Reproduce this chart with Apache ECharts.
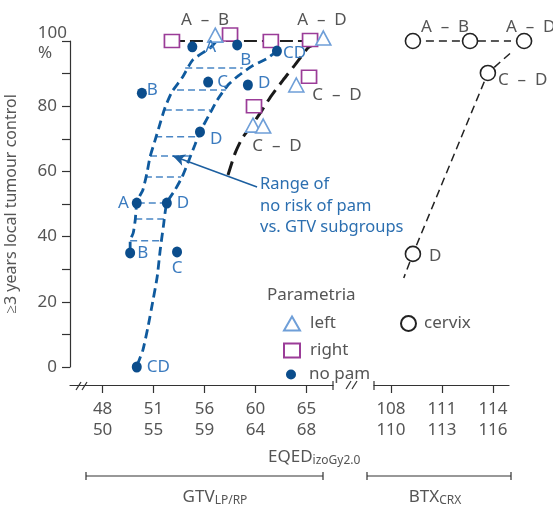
<!DOCTYPE html>
<html><head><meta charset="utf-8">
<script src="https://cdn.jsdelivr.net/npm/echarts@6/dist/echarts.min.js"></script>
<style>html,body{margin:0;padding:0;background:#fff}#c{width:553px;height:507px}</style>
</head><body><div id="c"></div>
<script>
// ---- tick labels ----
const gtvTicks = ['48\n50', '51\n55', '56\n59', '60\n64', '65\n68'];
const btxTicks = ['108\n110', '111\n113', '114\n116'];
const yLabelValues = [0, 20, 40, 60, 80];

// ---- data (x in tick-index units, y in % local tumour control) ----
const leftParam = [[2.21, 101.8], [4.33, 100.9], [3.80, 86.5], [2.95, 74.2], [3.15, 73.9]];
const rightParam = [[1.36, 100], [2.50, 102], [3.30, 100], [4.07, 100.3], [4.05, 89], [2.97, 80]];
const noPam = [[1.76, 98.2], [2.64, 98.8], [3.42, 96.9], [2.07, 87.4], [2.85, 86.5], [0.77, 84.0],
               [1.91, 72.1], [0.67, 50.3], [1.26, 50.3], [0.54, 35.0], [1.46, 35.3], [0.67, 0]];
const noPamLetters = ['A', 'B', 'CD', 'C', 'D', 'B', 'D', 'A', 'D', 'B', 'C', 'CD'];
const cervix = [[0.43, 100], [1.55, 100], [2.61, 100], [1.90, 90.2], [0.43, 34.7]];
const cervixLine = [[0.43, 100], [1.55, 100], [2.61, 100], [1.90, 90.2], [0.43, 34.7], [0.25, 27.3]];
const leftBound = [[0.54, 35.6], [0.54, 38.7], [0.60, 41.1], [0.64, 45.1], [0.67, 50.3], [0.73, 52.5],
                   [0.79, 54.3], [0.87, 59.5], [0.93, 64.4], [1.03, 69.6], [1.13, 74.8], [1.22, 79.4],
                   [1.36, 84.4], [1.56, 88.7], [1.77, 94.2], [2.11, 97.9], [2.25, 100.3]];
const rightBound = [[0.68, 0.6], [0.79, 5.2], [0.89, 12.3], [0.99, 20.6], [1.07, 27.6], [1.13, 35.9],
                    [1.19, 42.9], [1.26, 50.3], [1.42, 54.3], [1.56, 58.3], [1.68, 62.9], [1.81, 68.1],
                    [1.91, 72.1], [2.11, 77.9], [2.25, 81.9], [2.46, 86.5], [2.66, 89.3], [2.93, 92.3],
                    [3.21, 94.5], [3.42, 96.9]];
const blackCurve = [[2.46, 58.9], [2.60, 65.6], [2.74, 70.2], [2.93, 74.2], [3.13, 78.8], [3.28, 82.5],
                    [3.54, 88.0], [3.77, 92.6], [4.03, 97.9], [4.13, 98.8]];
const topLine = [[1.36, 100], [4.07, 100]];
const hatchY = [50.3, 45.4, 38.7, 58.3, 64.7, 70.6, 78.8, 85.0, 91.7];
const hatchX1 = [0.69, 0.64, 0.54, 0.83, 0.93, 1.03, 1.22, 1.46, 1.62];
const hatchX2 = [1.26, 1.20, 1.17, 1.54, 1.71, 1.87, 2.11, 2.42, 2.75];
const arrowFrom = [3.03, 55.2];
const arrowTo = [1.38, 64.7];

// ---- styles ----
const FONT = 'Noto Sans';
const GRAY = '#555555';
const AX = '#333333';
const DOT = '#0b4d8c';
const CURVE = '#0f5a9e';
const HATCH = '#4a86c5';
const LBL = '#3b7bbf';
const TRI = '#6f9fd8';
const SQ = '#9b3c98';
const labelOffsets = [['right', 8, 0, 0], ['right', 0, -2, 15], ['right', 1, 0, 2], ['right', 4, 0, 0],
                      ['right', 5, 0, -2], ['right', 0, 0, -3], ['right', 5, 0, 7], ['left', 3, 0, 0],
                      ['right', 5, 0, 0], ['right', 2, 0, 0], ['bottom', 2, 0, 0], ['right', 5, 0, 0]];

const chart = echarts.init(document.getElementById('c'));

function txt(x, y, text, o) {
  return { type: 'text', x: x, y: y, silent: true,
    style: Object.assign({ text: text, fill: GRAY, fontSize: 17, fontFamily: FONT, align: 'center', verticalAlign: 'middle' }, o || {}) };
}
function ln(x1, y1, x2, y2, w) {
  return { type: 'line', silent: true, shape: { x1: x1, y1: y1, x2: x2, y2: y2 }, style: { stroke: AX, lineWidth: w || 1.2 } };
}

const hatchSeries = hatchY.map((y, i) => ({
  type: 'line', xAxisIndex: 0, yAxisIndex: 0, data: [[hatchX1[i], y], [hatchX2[i], y]],
  symbol: 'none', silent: true, clip: false, z: 2,
  lineStyle: { color: HATCH, width: 1.5, type: [7, 4] }
}));

const xAxisCommon = {
  type: 'value', position: 'bottom', offset: 18, splitLine: { show: false },
  axisLine: { show: true, onZero: false, lineStyle: { color: AX, width: 1.2 } },
  axisTick: { show: true, length: 8, lineStyle: { color: AX, width: 1.2 } },
  axisLabel: { color: GRAY, fontSize: 17, fontFamily: FONT, lineHeight: 21, margin: 14 }
};
const legendText = { color: GRAY, fontSize: 17, fontFamily: FONT };

const option = {
  backgroundColor: '#fff',
  animation: false,
  textStyle: { fontFamily: FONT },
  grid: [
    { left: 70, top: 41, width: 263, height: 326 },
    { left: 374, top: 41, width: 135, height: 326 }
  ],
  xAxis: [
    Object.assign({}, xAxisCommon, { gridIndex: 0, min: -0.64, max: 4.52,
      axisTick: Object.assign({}, xAxisCommon.axisTick, { customValues: [0, 1, 2, 3, 4] }),
      axisLabel: Object.assign({}, xAxisCommon.axisLabel, { customValues: [0, 1, 2, 3, 4], formatter: v => gtvTicks[Math.round(v)] })
    }),
    Object.assign({}, xAxisCommon, { gridIndex: 1, min: -0.333, max: 2.314,
      axisTick: Object.assign({}, xAxisCommon.axisTick, { customValues: [0, 1, 2] }),
      axisLabel: Object.assign({}, xAxisCommon.axisLabel, { customValues: [0, 1, 2], formatter: v => btxTicks[Math.round(v)] })
    })
  ],
  yAxis: [
    { type: 'value', gridIndex: 0, min: 0, max: 100, interval: 10,
      name: '≥3 years local tumour control', nameLocation: 'middle', nameGap: 51, nameRotate: 90,
      nameTextStyle: { color: GRAY, fontSize: 16, fontFamily: FONT },
      axisLine: { show: true, onZero: false, lineStyle: { color: AX, width: 1.2 } },
      axisTick: { show: true, length: 8, lineStyle: { color: AX, width: 1.2 } },
      axisLabel: { color: GRAY, fontSize: 17, fontFamily: FONT, margin: 13,
        formatter: v => (yLabelValues.indexOf(v) >= 0 ? String(v) : '') },
      splitLine: { show: false } },
    { type: 'value', gridIndex: 1, min: 0, max: 100, show: false }
  ],
  legend: [
    { data: ['left', 'right'], orient: 'vertical', left: 283, top: 315, padding: 0, itemWidth: 16, itemHeight: 14, itemGap: 10,
      selectedMode: false, textStyle: Object.assign({ padding: [0, 0, 0, 5] }, legendText) },
    { data: ['no pam'], orient: 'vertical', left: 286, top: 366, padding: 0, itemWidth: 10, itemHeight: 11,
      selectedMode: false, textStyle: Object.assign({ padding: [0, 0, 0, 8] }, legendText) },
    { data: ['cervix'], orient: 'vertical', left: 400, top: 315, padding: 0, itemWidth: 15, itemHeight: 15,
      selectedMode: false, textStyle: Object.assign({ padding: [0, 0, 0, 3] }, legendText) }
  ],
  series: hatchSeries.concat([
    { type: 'line', name: 'leftBound', xAxisIndex: 0, yAxisIndex: 0, data: leftBound, symbol: 'none', smooth: 0.2,
      silent: true, clip: false, z: 3, lineStyle: { color: CURVE, width: 2.8, type: [9, 5] } },
    { type: 'line', name: 'rightBound', xAxisIndex: 0, yAxisIndex: 0, data: rightBound, symbol: 'none', smooth: 0.2,
      silent: true, clip: false, z: 3, lineStyle: { color: CURVE, width: 2.8, type: [9, 5] } },
    { type: 'line', name: 'blackCurve', xAxisIndex: 0, yAxisIndex: 0, data: blackCurve, symbol: 'none', smooth: 0.2,
      silent: true, clip: false, z: 3, lineStyle: { color: '#1a1a1a', width: 3, type: [14, 7] } },
    { type: 'line', name: 'topLine', xAxisIndex: 0, yAxisIndex: 0, data: topLine, symbol: 'none',
      silent: true, clip: false, z: 3, lineStyle: { color: '#222', width: 1.8, type: [13, 5] } },
    { type: 'line', name: 'arrow', xAxisIndex: 0, yAxisIndex: 0, data: [], silent: true, clip: false,
      markLine: { silent: true, symbol: ['none', 'arrow'], symbolSize: [9, 12], label: { show: false },
        lineStyle: { color: '#1c5fa0', width: 1.5, type: 'solid' },
        data: [[{ coord: arrowFrom }, { coord: arrowTo }]] } },
    { type: 'scatter', name: 'right', xAxisIndex: 0, yAxisIndex: 0, data: rightParam, symbol: 'rect', symbolSize: [15, 13],
      clip: false, z: 5, itemStyle: { color: '#fff', borderColor: SQ, borderWidth: 1.6, opacity: 1 } },
    { type: 'scatter', name: 'left', xAxisIndex: 0, yAxisIndex: 0, data: leftParam, symbol: 'triangle', symbolSize: [15, 14],
      clip: false, z: 5, itemStyle: { color: '#fff', borderColor: TRI, borderWidth: 1.6, opacity: 1 } },
    { type: 'scatter', name: 'no pam', xAxisIndex: 0, yAxisIndex: 0, symbol: 'circle', symbolSize: [10, 11],
      clip: false, z: 6, itemStyle: { color: DOT, opacity: 1 },
      data: noPam.map((p, i) => ({ value: p, label: { show: true, formatter: noPamLetters[i],
        position: labelOffsets[i][0], distance: labelOffsets[i][1], offset: [labelOffsets[i][2], labelOffsets[i][3]],
        color: LBL, fontSize: 17, fontFamily: FONT } })) },
    { type: 'line', name: 'cervixLine', xAxisIndex: 1, yAxisIndex: 1, data: cervixLine, symbol: 'none',
      silent: true, clip: false, z: 3, lineStyle: { color: '#222', width: 1.5, type: [8, 5] } },
    { type: 'scatter', name: 'cervix', xAxisIndex: 1, yAxisIndex: 1, data: cervix, symbol: 'circle', symbolSize: 15,
      clip: false, z: 5, itemStyle: { color: '#fff', borderColor: '#222', borderWidth: 1.6, opacity: 1 } }
  ]),
  graphic: [
    txt(67, 33, '100', { align: 'right' }),
    txt(38, 53, '%', { align: 'left' }),
    txt(205, 20, 'A  –  B'),
    txt(322, 20, 'A  –  D'),
    txt(337, 95, 'C  –  D'),
    txt(277, 146, 'C  –  D'),
    txt(445, 27, 'A  –  B'),
    txt(506, 27, 'A  –  D', { align: 'left' }),
    txt(498, 80, 'C  –  D', { align: 'left' }),
    txt(429, 256, 'D', { align: 'left' }),
    txt(260, 174, 'Range of\nno risk of pam\nvs. GTV subgroups', { align: 'left', verticalAlign: 'top', fill: '#2c6fb0', fontSize: 16.5, lineHeight: 21.5 }),
    txt(267, 295, 'Parametria', { align: 'left' }),
    { type: 'text', x: 268, y: 457, silent: true, style: { text: '{a|EQED}{b|izoGy2.0}', align: 'left', verticalAlign: 'middle',
      rich: { a: { fontSize: 17, fontFamily: FONT, fill: GRAY, lineHeight: 20 }, b: { fontSize: 12, fontFamily: FONT, fill: GRAY, lineHeight: 13, verticalAlign: 'bottom' } } } },
    { type: 'text', x: 215, y: 497, silent: true, style: { text: '{a|GTV}{b|LP/RP}', align: 'center', verticalAlign: 'middle',
      rich: { a: { fontSize: 17, fontFamily: FONT, fill: GRAY, lineHeight: 20 }, b: { fontSize: 12, fontFamily: FONT, fill: GRAY, lineHeight: 13, verticalAlign: 'bottom' } } } },
    { type: 'text', x: 435, y: 497, silent: true, style: { text: '{a|BTX}{b|CRX}', align: 'center', verticalAlign: 'middle',
      rich: { a: { fontSize: 17, fontFamily: FONT, fill: GRAY, lineHeight: 20 }, b: { fontSize: 12, fontFamily: FONT, fill: GRAY, lineHeight: 13, verticalAlign: 'bottom' } } } },
    // brackets
    ln(86, 476, 323, 476), ln(86, 472, 86, 480), ln(323, 472, 323, 480),
    ln(367, 476, 511, 476), ln(367, 472, 367, 480), ln(511, 472, 511, 480),
    // axis end ticks
    ln(333, 381, 333, 390), ln(374, 381, 374, 390),
    // break marks
    ln(76, 390, 81, 382), ln(82, 390, 87, 382),
    ln(346, 389, 351, 381), ln(352, 389, 357, 381)
  ]
};
chart.setOption(option);
</script></body></html>
